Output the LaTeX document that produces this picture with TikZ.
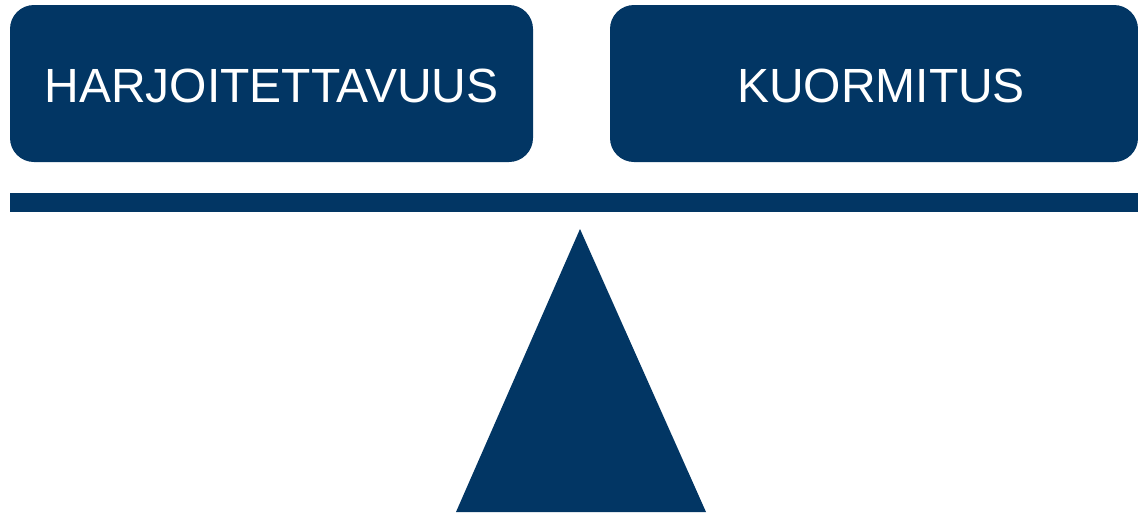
\documentclass[tikz,border=0pt]{standalone}
\usepackage{fontspec}
\setmainfont{Liberation Sans}
\definecolor{navy}{RGB}{2,54,100}
\begin{document}
\begin{tikzpicture}[x=1pt,y=-1pt,
  boxstyle/.style={fill=navy,draw=none,rounded corners=24pt,inner sep=0pt},
  lbl/.style={text=white,font=\fontsize{48}{52}\selectfont,inner sep=0pt,anchor=base}]
\useasboundingbox (0,0) rectangle (1138,512);
\path[boxstyle] (10,5) rectangle (533,162);
\path[boxstyle] (610,5) rectangle (1138,162);
\node[lbl] (left) at (271.5,102.5) {HARJOITETTAVUUS};
\node[lbl] (right) at (881,102.5) {KUORMITUS};
\fill[navy] (10,193) rectangle (1138,212);
\fill[navy] (580,229) -- (706,512) -- (456,512) -- cycle;
\end{tikzpicture}
\end{document}
